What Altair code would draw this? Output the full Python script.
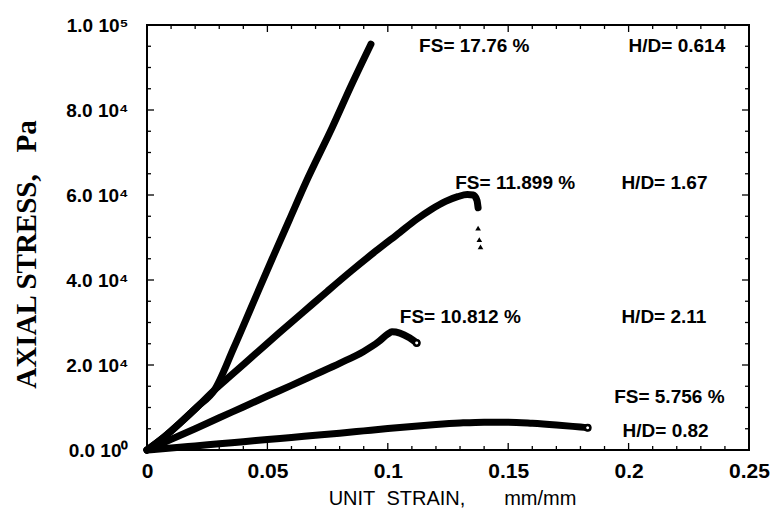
import altair as alt
import pandas as pd

# ---- stress-strain curves (unit strain, axial stress in Pa) ----
hd_0614_strain = [0.0, 0.007, 0.014, 0.021, 0.028, 0.036, 0.044, 0.052, 0.059, 0.066, 0.077, 0.085, 0.093]
hd_0614_stress = [0, 3000, 6500, 10200, 14100, 24000, 34500, 45000, 54000, 63000, 76000, 86000, 95500]

hd_167_strain = [0.0, 0.007, 0.014, 0.021, 0.028, 0.035, 0.045, 0.055, 0.065, 0.075, 0.085, 0.095,
                 0.105, 0.112, 0.118, 0.124, 0.129, 0.133, 0.1355, 0.137, 0.1375]
hd_167_stress = [0, 3000, 6500, 10200, 14100, 17600, 22600, 27600, 32500, 37400, 42200, 46800,
                 51200, 54300, 56600, 58500, 59600, 60100, 60000, 58800, 57000]

hd_211_strain = [0.0, 0.01, 0.02, 0.03, 0.04, 0.05, 0.06, 0.07, 0.08, 0.09, 0.096,
                 0.1, 0.1017, 0.105, 0.109, 0.112]
hd_211_stress = [0, 2500, 5000, 7600, 10100, 12700, 15200, 17800, 20400, 23200, 25400,
                 27300, 27800, 27500, 26400, 25200]

hd_082_strain = [0.0, 0.01, 0.02, 0.03, 0.04, 0.05, 0.06, 0.07, 0.08, 0.09, 0.1, 0.11, 0.12,
                 0.13, 0.14, 0.15, 0.16, 0.17, 0.18, 0.183]
hd_082_stress = [0, 450, 950, 1450, 1950, 2450, 2950, 3450, 3950, 4500, 5050, 5550, 6000,
                 6350, 6550, 6550, 6300, 5900, 5400, 5250]

# readings scattered after the H/D = 1.67 specimen failed
post_fail_strain = [0.1375, 0.1375, 0.138, 0.1385]
post_fail_stress = [57200, 52200, 49500, 47800]

# open-circle end points of the H/D = 2.11 and 0.82 curves
end_strain = [0.112, 0.183]
end_stress = [25200, 5250]

# ---- annotations ----
note_text = ["FS= 17.76 %", "H/D= 0.614", "FS= 11.899 %", "H/D= 1.67",
             "FS= 10.812 %", "H/D= 2.11", "FS= 5.756 %", "H/D= 0.82"]
note_strain = [0.113, 0.200, 0.128, 0.197, 0.105, 0.197, 0.194, 0.1975]
note_stress = [95000, 95000, 62800, 62800, 31300, 31300, 12500, 4500]

# ---- axis ticks and labels ----
x_tick_values = [0, 0.05, 0.1, 0.15, 0.2, 0.25]
x_tick_labels = ["0", "0.05", "0.1", "0.15", "0.2", "0.25"]
y_tick_values = [0, 20000, 40000, 60000, 80000, 100000]
y_tick_labels = ["0.0 10\u2070", "2.0 10\u2074", "4.0 10\u2074", "6.0 10\u2074", "8.0 10\u2074", "1.0 10\u2075"]
x_minor_values = [round(i * 0.01, 2) for i in range(1, 25) if i % 5 != 0]
x_major_values = [0.05, 0.1, 0.15, 0.2]
y_minor_values = [i * 5000 for i in range(1, 20) if i % 4 != 0]
y_major_values = [20000, 40000, 60000, 80000]

W, H = 602, 425
SANS = "Liberation Sans"
SERIF = "Liberation Serif"

xs = alt.Scale(domain=[0, 0.25], nice=False, zero=True)
ys = alt.Scale(domain=[0, 100000], nice=False, zero=True)


def label_expr(values, labels):
    expr = "''"
    for v, l in zip(values, labels):
        expr = f"abs(datum.value - {v}) < 1e-9 ? '{l}' : ({expr})"
    return expr


x_axis = alt.Axis(
    values=x_tick_values, labelExpr=label_expr(x_tick_values, x_tick_labels),
    ticks=False, domain=False, grid=False,
    labelFont=SANS, labelFontWeight="bold", labelFontSize=21, labelColor="black",
    labelPadding=10, labelFlush=False,
    title="UNIT\u00a0\u00a0STRAIN,\u00a0\u00a0\u00a0\u00a0\u00a0\u00a0\u00a0mm/mm",
    titleFont=SANS, titleFontSize=20, titleFontWeight="normal", titleColor="black",
    titleX=305, titleY=48, titleBaseline="middle")
y_axis = alt.Axis(
    values=y_tick_values, labelExpr=label_expr(y_tick_values, y_tick_labels),
    ticks=False, domain=False, grid=False,
    labelFont=SANS, labelFontWeight="bold", labelFontSize=19, labelColor="black",
    labelPadding=19, labelFlush=False,
    title="AXIAL STRESS,\u00a0\u00a0\u00a0Pa",
    titleFont=SERIF, titleFontSize=29, titleFontWeight="bold", titleColor="black",
    titleX=-121, titleY=229, titleBaseline="middle", titleAngle=270)

curves = []
for name, sx, sy in [("0.614", hd_0614_strain, hd_0614_stress),
                     ("1.67", hd_167_strain, hd_167_stress),
                     ("2.11", hd_211_strain, hd_211_stress),
                     ("0.82", hd_082_strain, hd_082_stress)]:
    for i, (a, b) in enumerate(zip(sx, sy)):
        curves.append({"hd": name, "order": i, "strain": a, "stress": b})
curve_df = pd.DataFrame(curves)

lines = alt.Chart(curve_df).mark_line(
    color="black", strokeWidth=7, strokeCap="round", strokeJoin="round", interpolate="monotone"
).encode(
    x=alt.X("strain:Q", scale=xs, axis=x_axis),
    y=alt.Y("stress:Q", scale=ys, axis=y_axis),
    detail="hd:N",
    order="order:Q",
)

X = alt.X("strain:Q", scale=xs)
Y = alt.Y("stress:Q", scale=ys)

post_fail = alt.Chart(pd.DataFrame({"strain": post_fail_strain, "stress": post_fail_stress})).mark_point(
    shape="triangle-up", filled=True, color="black", opacity=1, size=32
).encode(x=X, y=Y)

ends = alt.Chart(pd.DataFrame({"strain": end_strain, "stress": end_stress})).mark_point(
    shape="circle", filled=True, fill="white", stroke="black", strokeWidth=2.5, size=30, opacity=1
).encode(x=X, y=Y)

notes = alt.Chart(pd.DataFrame({"t": note_text, "strain": note_strain, "stress": note_stress})).mark_text(
    align="left", baseline="middle", font=SANS, fontWeight="bold", fontSize=19, color="black"
).encode(x=X, y=Y, text="t:N")


def x_ticks(values, length):
    df = pd.DataFrame({"strain": values})
    base = alt.Chart(df).mark_rule(color="black", strokeWidth=1.3)
    bottom = base.encode(x=X, y=alt.value(H), y2=alt.value(H - length))
    top = base.encode(x=X, y=alt.value(0), y2=alt.value(length))
    return [bottom, top]


def y_ticks(values, length):
    df = pd.DataFrame({"stress": values})
    base = alt.Chart(df).mark_rule(color="black", strokeWidth=1.3)
    left = base.encode(y=Y, x=alt.value(0), x2=alt.value(length))
    right = base.encode(y=Y, x=alt.value(W), x2=alt.value(W - length))
    return [left, right]


tick_layers = (x_ticks(x_minor_values, 4) + x_ticks(x_major_values, 7)
               + y_ticks(y_minor_values, 4) + y_ticks(y_major_values, 7))

chart = alt.layer(lines, *tick_layers, post_fail, ends, notes).properties(
    width=W, height=H,
    autosize=alt.AutoSizeParams(type="none"),
    padding={"left": 147, "top": 25, "right": 29, "bottom": 73},
    background="white",
).configure_view(stroke="black", strokeWidth=2)

chart.save("out.html", embed_options={"renderer": "svg", "actions": False})
